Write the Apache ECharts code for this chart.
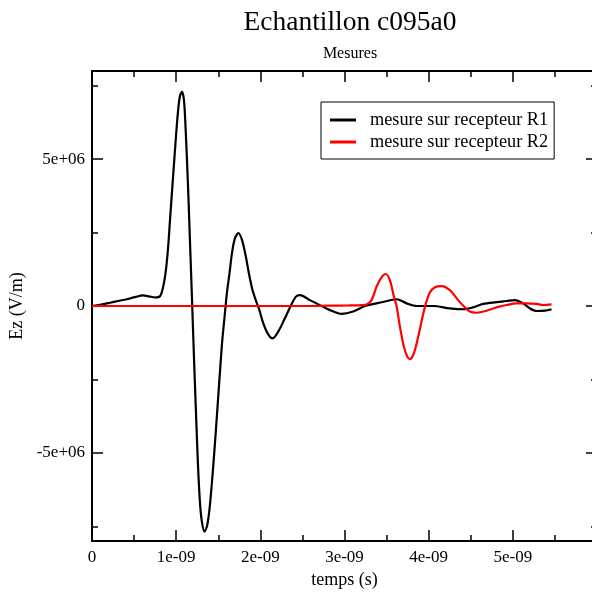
<!DOCTYPE html>
<html>
<head>
<meta charset="utf-8">
<script src="https://cdn.jsdelivr.net/npm/echarts@6/dist/echarts.min.js"></script>
<style>
html,body{margin:0;padding:0;background:#fff;}
#chart{width:592px;height:592px;}
</style>
</head>
<body>
<div id="chart"></div>
<script>
// ---- data (time in ns, Ez in V/m) ----
const timesR1 = [0.000,0.095,0.214,0.309,0.412,0.511,0.606,0.677,0.748,0.808,0.843,0.873,0.903,0.932,0.962,0.992,1.021,1.045,1.069,1.093,1.116,1.140,1.164,1.188,1.211,1.235,1.259,1.283,1.306,1.336,1.366,1.395,1.425,1.455,1.485,1.514,1.544,1.574,1.603,1.633,1.663,1.698,1.740,1.782,1.823,1.865,1.906,1.948,1.989,2.031,2.090,2.146,2.213,2.292,2.360,2.423,2.470,2.589,2.708,2.827,2.966,3.103,3.242,3.381,3.519,3.619,3.738,3.856,4.053,4.252,4.410,4.529,4.647,4.806,4.925,5.024,5.122,5.202,5.281,5.380,5.460];
const valuesR1 = [0,0.4e5,1.1e5,1.7e5,2.3e5,3.0e5,3.6e5,3.3e5,2.9e5,3.3e5,6.2e5,1.1e6,1.95e6,3.15e6,4.35e6,5.55e6,6.6e6,7.15e6,7.29e6,7.0e6,5.8e6,4.15e6,2.2e6,2.5e5,-1.7e6,-3.6e6,-5.4e6,-6.7e6,-7.35e6,-7.68e6,-7.5e6,-6.95e6,-6.0e6,-4.9e6,-3.7e6,-2.5e6,-1.3e6,-4e5,4.5e5,1.1e6,1.8e6,2.3e6,2.48e6,2.25e6,1.75e6,1.1e6,5.5e5,1.8e5,-1.4e5,-5.6e5,-9.5e5,-1.1e6,-8.7e5,-4.2e5,0,3.2e5,3.7e5,2.0e5,3e4,-1.4e5,-2.7e5,-1.9e5,0,9e4,1.8e5,2.3e5,9e4,0,0,-8e4,-1.1e5,-4.5e4,7e4,1.3e5,1.7e5,2e5,9e4,-8e4,-1.7e5,-1.6e5,-1.1e5];
const timesR2 = [0.000,0.5,1.0,1.5,2.0,2.5,2.8,3.05,3.207,3.262,3.322,3.381,3.441,3.488,3.539,3.587,3.619,3.658,3.705,3.745,3.777,3.824,3.876,3.928,3.967,4.014,4.074,4.153,4.252,4.350,4.430,4.489,4.569,4.688,4.806,4.925,5.044,5.162,5.281,5.360,5.460];
const valuesR2 = [0,0,0,0,0,0,1e4,2e4,3e4,5e4,2e5,6.6e5,9.8e5,1.09e6,8.8e5,3.2e5,0,-7e5,-1.38e6,-1.72e6,-1.81e6,-1.61e6,-1.04e6,-3.6e5,9e4,4.6e5,6.4e5,6.8e5,5.4e5,2e5,-4.5e4,-1.9e5,-2.3e5,-1.6e5,-4.5e4,3.4e4,9e4,9e4,7e4,3.4e4,5.8e4];
const seriesNames = ['mesure sur recepteur R1','mesure sur recepteur R2'];
const xTickLabels = ['0','1e-09','2e-09','3e-09','4e-09','5e-09'];
const yMajorTicks = [-5e6, 0, 5e6];
const yTickLabels = ['-5e+06','0','5e+06'];
const yMinorTicks = [-7.5e6, -2.5e6, 2.5e6, 7.5e6];

const FONT = 'Liberation Serif';
const zip = (a, b) => a.map((t, i) => [t, b[i]]);

const xBase = {
  type: 'value', min: 0, max: 6, interval: 1,
  axisLine: {show: true, onZero: false, lineStyle: {color: '#000', width: 2}},
  axisTick: {show: true, inside: true, length: 11, lineStyle: {color: '#000', width: 1.5}},
  minorTick: {show: true, splitNumber: 2, length: 6, lineStyle: {color: '#000', width: 1.5}},
  splitLine: {show: false}, minorSplitLine: {show: false}
};
const yBase = {
  type: 'value', min: -8e6, max: 8e6,
  axisLine: {show: true, onZero: false, lineStyle: {color: '#000', width: 2}},
  splitLine: {show: false}
};

const chart = echarts.init(document.getElementById('chart'), null, {renderer: 'canvas'});
chart.setOption({
  animation: false,
  backgroundColor: '#fff',
  title: {
    text: 'Echantillon c095a0',
    subtext: 'Mesures',
    left: 345, top: 4, textAlign: 'center', itemGap: 9,
    textStyle: {fontFamily: FONT, fontSize: 27.5, fontWeight: 'normal', color: '#000'},
    subtextStyle: {fontFamily: FONT, fontSize: 16, color: '#000'}
  },
  legend: {
    orient: 'vertical', left: 321, top: 102,
    padding: [9, 6, 8, 9],
    borderColor: '#000', borderWidth: 1,
    icon: 'rect', itemWidth: 26, itemHeight: 3, itemGap: 4,
    textStyle: {fontFamily: FONT, fontSize: 18.3, color: '#000', lineHeight: 18, padding: [0, 0, 0, 9]},
    data: seriesNames
  },
  grid: {left: 92, top: 71, bottom: 51, right: -5, outerBoundsMode: 'none', containLabel: false},
  xAxis: [
    Object.assign({}, xBase, {
      position: 'bottom',
      name: 'temps (s)', nameLocation: 'middle', nameGap: 28,
      nameTextStyle: {fontFamily: FONT, fontSize: 18, color: '#000'},
      axisLabel: {show: true, margin: 8, showMaxLabel: false, fontFamily: FONT, fontSize: 17, color: '#000',
        formatter: v => xTickLabels[Math.round(v)] || ''}
    }),
    Object.assign({}, xBase, {position: 'top', axisLabel: {show: false}})
  ],
  yAxis: [
    Object.assign({}, yBase, {
      position: 'left',
      name: 'Ez (V/m)', nameLocation: 'middle', nameGap: 57, nameRotate: 90,
      nameTextStyle: {fontFamily: FONT, fontSize: 18, color: '#000'},
      axisTick: {show: true, inside: true, length: 11, customValues: yMajorTicks, lineStyle: {color: '#000', width: 1.5}},
      axisLabel: {show: true, margin: 7, customValues: yMajorTicks, fontFamily: FONT, fontSize: 17, color: '#000',
        formatter: v => yTickLabels[yMajorTicks.indexOf(v)] || ''}
    }),
    Object.assign({}, yBase, {
      position: 'left', axisLine: {show: false, onZero: false},
      axisTick: {show: true, inside: true, length: 6, customValues: yMinorTicks, lineStyle: {color: '#000', width: 1.5}},
      axisLabel: {show: false}
    }),
    Object.assign({}, yBase, {
      position: 'right',
      axisTick: {show: true, inside: true, length: 11, customValues: yMajorTicks, lineStyle: {color: '#000', width: 1.5}},
      axisLabel: {show: false}
    }),
    Object.assign({}, yBase, {
      position: 'right', axisLine: {show: false, onZero: false},
      axisTick: {show: true, inside: true, length: 6, customValues: yMinorTicks, lineStyle: {color: '#000', width: 1.5}},
      axisLabel: {show: false}
    })
  ],
  series: [
    {
      name: seriesNames[0], type: 'line', xAxisIndex: 0, yAxisIndex: 0,
      data: zip(timesR1, valuesR1), smooth: 0.3, showSymbol: false, symbol: 'none',
      lineStyle: {color: '#000', width: 2.2}, itemStyle: {color: '#000'}
    },
    {
      name: seriesNames[1], type: 'line', xAxisIndex: 0, yAxisIndex: 0,
      data: zip(timesR2, valuesR2), smooth: 0.3, showSymbol: false, symbol: 'none',
      lineStyle: {color: '#ff0000', width: 2.2}, itemStyle: {color: '#ff0000'}
    }
  ]
});
</script>
</body>
</html>
